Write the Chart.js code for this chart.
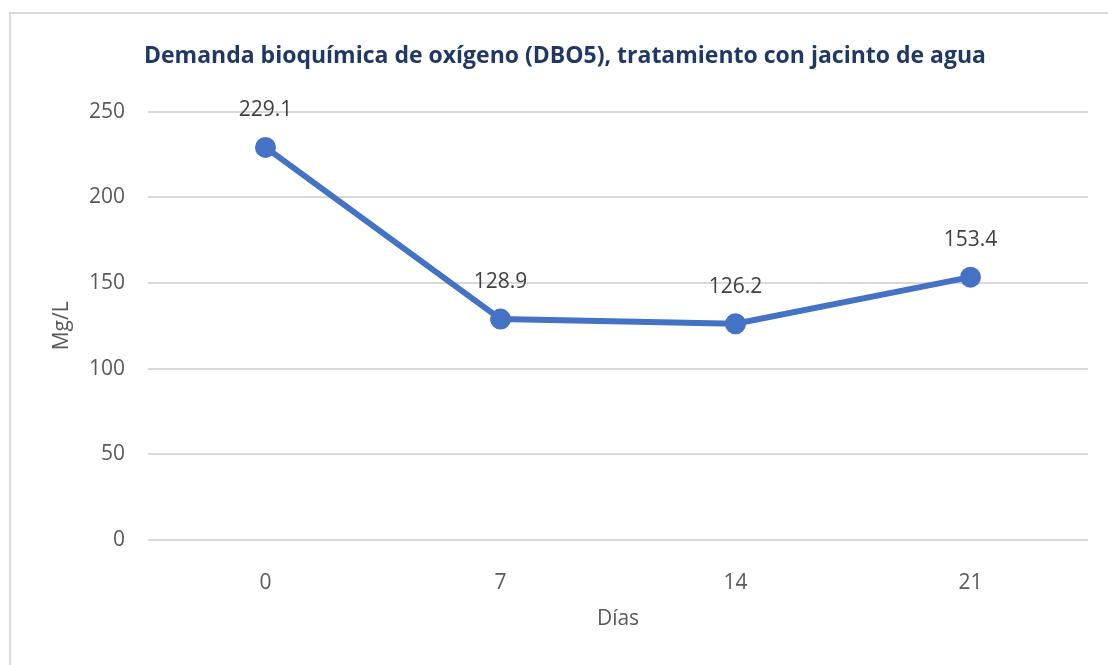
<!DOCTYPE html>
<html>
<head>
<meta charset="utf-8">
<script src="https://cdn.jsdelivr.net/npm/chart.js@4.4.0/dist/chart.umd.min.js"></script>
<style>
  html, body { margin: 0; padding: 0; background: #fff; }
  #wrap { position: relative; width: 1108px; height: 665px; }
  #frame {
    position: absolute; left: 9px; top: 12px; width: 1100px; height: 651px;
    border-top: 2px solid #d9d9d9; border-left: 2px solid #d9d9d9;
    pointer-events: none;
  }
</style>
</head>
<body>
<div id="wrap">
  <canvas id="dboChart" width="1108" height="665"></canvas>
  <div id="frame"></div>
</div>
<script>
const dias = ['0', '7', '14', '21'];
const dbo5 = [229.1, 128.9, 126.2, 153.4];
const yMin = 0;
const yMax = 250;
const yStep = 50;

const fontFamily = "'Open Sans', 'Noto Sans', sans-serif";

// etiquetas de valor encima de cada punto
const valueLabels = {
    id: 'valueLabels',
    afterDatasetsDraw(chart) {
        const ctx = chart.ctx;
        const meta = chart.getDatasetMeta(0);
        ctx.save();
        ctx.font = `21px ${fontFamily}`;
        ctx.fillStyle = '#404040';
        ctx.textAlign = 'center';
        ctx.textBaseline = 'middle';
        meta.data.forEach((pt, i) => {
            ctx.fillText(dbo5[i].toFixed(1), pt.x, pt.y - 37);
        });
        ctx.restore();
    }
};

const ctx = document.getElementById('dboChart').getContext('2d');
new Chart(ctx, {
    type: 'line',
    data: {
        labels: dias,
        datasets: [{
            label: 'DBO5',
            data: dbo5,
            borderColor: '#4472C4',
            backgroundColor: '#4472C4',
            borderWidth: 6,
            pointRadius: 7.5,
            pointHoverRadius: 7.5,
            tension: 0,
        }],
    },
    options: {
        responsive: false,
        animation: false,
        layout: { padding: { left: 42, right: 20, top: 0, bottom: 0 } },
        plugins: {
            legend: { display: false },
            tooltip: { enabled: false },
            title: {
                display: true,
                text: 'Demanda bioquímica de oxígeno (DBO5), tratamiento con jacinto de agua',
                color: '#1F3864',
                font: { family: fontFamily, size: 23, weight: 'bold', lineHeight: 1.2 },
                padding: { top: 43, bottom: 41 },
            },
        },
        scales: {
            x: {
                offset: true,
                grid: { display: false },
                border: { display: false },
                ticks: { color: '#595959', font: { family: fontFamily, size: 21 }, padding: 22 },
                title: {
                    display: true,
                    text: 'Días',
                    color: '#595959',
                    font: { family: fontFamily, size: 21, lineHeight: 1.2 },
                    padding: { top: 0, bottom: 33 },
                },
                afterFit: (scale) => { scale.height = 125; },
            },
            y: {
                min: yMin,
                max: yMax,
                grid: { color: '#d9d9d9', lineWidth: 2, drawTicks: false },
                border: { display: false },
                ticks: { stepSize: yStep, color: '#595959', font: { family: fontFamily, size: 21 }, padding: 23 },
                title: {
                    display: true,
                    text: 'Mg/L',
                    color: '#595959',
                    font: { family: fontFamily, size: 21, lineHeight: 1.2 },
                    padding: { top: 7, bottom: 0 },
                },
                afterFit: (scale) => { scale.width = 106; },
            },
        },
    },
    plugins: [valueLabels],
});
</script>
</body>
</html>
